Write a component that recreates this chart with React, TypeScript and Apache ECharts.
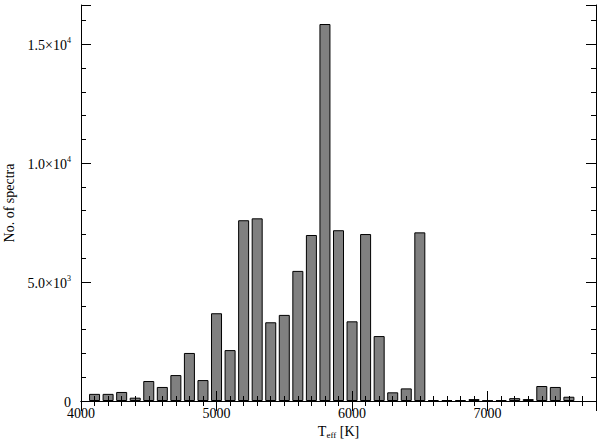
import React, { useEffect, useRef } from "react";
import * as echarts from "echarts";

const temps = [4100, 4200, 4300, 4400, 4500, 4600, 4700, 4800, 4900, 5000, 5100, 5200, 5300, 5400, 5500, 5600, 5700, 5800, 5900, 6000, 6100, 6200, 6300, 6400, 6500, 6600, 6700, 6800, 6900, 7000, 7100, 7200, 7300, 7400, 7500, 7600];
const counts = [300, 300, 380, 140, 840, 590, 1090, 2020, 880, 3690, 2140, 7600, 7680, 3310, 3620, 5470, 6980, 15850, 7180, 3350, 7020, 2730, 365, 530, 7090, 40, 40, 40, 80, 20, 30, 120, 80, 630, 590, 180];
const yTickLabels: Record<number, string> = {
  0: "{m|0}",
  5000: "{m|5.0×10}{s|3}",
  10000: "{m|1.0×10}{s|4}",
  15000: "{m|1.5×10}{s|4}",
};
const xTickLabels = [4000, 5000, 6000, 7000];

const FONT = "Liberation Serif";
const X_MIN = 4000;
const X_MAX = 7800;
const Y_MIN = 0;
const Y_MAX = 16650;

export default function App() {
  const ref = useRef<HTMLDivElement>(null);
  useEffect(() => {
    if (!ref.current) return;
    const chart = echarts.init(ref.current, null, { renderer: "svg" });
    const line = { show: true, lineStyle: { color: "#000", width: 1 } };
    const noLine = { show: false };
    const xBase = (position: string, interval: number, tickLen: number, major: boolean, withLabels: boolean) => ({
      type: "value",
      position,
      min: X_MIN,
      max: X_MAX,
      interval,
      z: 10,
      axisLine: major ? line : noLine,
      axisTick: { show: true, inside: true, length: tickLen, lineStyle: { color: "#000", width: 1 } },
      axisLabel: withLabels
        ? {
            show: true,
            margin: 5,
            color: "#000",
            fontFamily: FONT,
            fontSize: 14,
            formatter: (v: number) => (xTickLabels.includes(v) ? String(v) : ""),
          }
        : { show: false },
      splitLine: { show: false },
    });
    const yBase = (position: string, interval: number, tickLen: number, major: boolean, withLabels: boolean) => ({
      type: "value",
      position,
      min: Y_MIN,
      max: Y_MAX,
      interval,
      z: 10,
      axisLine: major ? line : noLine,
      axisTick: { show: true, inside: true, length: tickLen, lineStyle: { color: "#000", width: 1 } },
      axisLabel: withLabels
        ? {
            show: true,
            margin: 10,
            color: "#000",
            formatter: (v: number) => yTickLabels[v] ?? "",
            rich: {
              m: { fontFamily: FONT, fontSize: 14, color: "#000", lineHeight: 16, verticalAlign: "bottom" },
              s: { fontFamily: FONT, fontSize: 8, color: "#000", lineHeight: 16, verticalAlign: "top", padding: [0, 0, 6, 0] },
            },
          }
        : { show: false },
      splitLine: { show: false },
    });

    const xMain: any = xBase("bottom", 1000, 10, true, true);
    xMain.name = "{m|T}{s|eff}{m| [K]}";
    xMain.nameLocation = "middle";
    xMain.nameGap = 22;
    xMain.nameTextStyle = {
      rich: {
        m: { fontFamily: FONT, fontSize: 14, color: "#000", lineHeight: 16 },
        s: { fontFamily: FONT, fontSize: 9, color: "#000", lineHeight: 16, verticalAlign: "bottom", padding: [6, 0, 0, 0] },
      },
    };
    const yMain: any = yBase("left", 5000, 10, true, true);
    yMain.name = "No. of spectra";
    yMain.nameLocation = "middle";
    yMain.nameGap = 64;
    yMain.nameTextStyle = { fontFamily: FONT, fontSize: 14, color: "#000" };

    chart.setOption({
      animation: false,
      backgroundColor: "#fff",
      grid: { left: 81, right: 4, top: 5, bottom: 39, containLabel: false, outerBoundsMode: "none" },
      xAxis: [
        xMain,
        xBase("bottom", 100, 5, false, false),
        xBase("top", 1000, 10, true, false),
        xBase("top", 100, 5, false, false),
      ],
      yAxis: [
        yMain,
        yBase("left", 1000, 5, false, false),
        yBase("right", 5000, 10, true, false),
        yBase("right", 1000, 5, false, false),
      ],
      series: [
        {
          type: "bar",
          xAxisIndex: 0,
          yAxisIndex: 0,
          barWidth: 11,
          z: 2,
          itemStyle: { color: "#808080", borderColor: "#000", borderWidth: 1 },
          data: temps.map((t, i) => [t, counts[i]]),
        },
      ],
    });
    return () => chart.dispose();
  }, []);
  return <div ref={ref} style={{ position: "fixed", left: 0, top: 0, width: 600, height: 440 }} />;
}
